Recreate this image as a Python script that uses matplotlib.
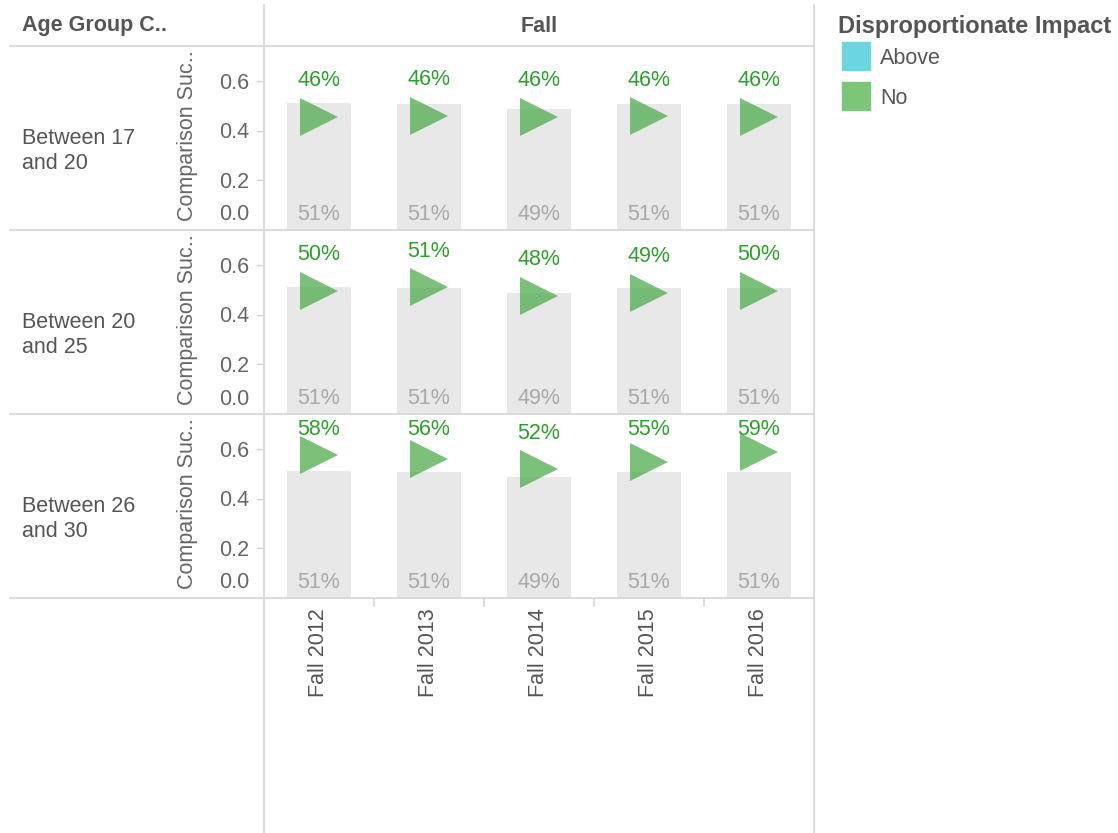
import matplotlib
matplotlib.use("Agg")
import matplotlib.pyplot as plt
from matplotlib.lines import Line2D
from matplotlib.patches import Rectangle

# ---------------- data ----------------
terms = ["Fall 2012", "Fall 2013", "Fall 2014", "Fall 2015", "Fall 2016"]
age_groups = ["Between 17\nand 20", "Between 20\nand 25", "Between 26\nand 30"]
comparison_rate = [0.512, 0.507, 0.490, 0.507, 0.507]          # grey bars (same in each row)
group_rate_17_20 = [0.458, 0.462, 0.458, 0.459, 0.458]
group_rate_20_25 = [0.498, 0.512, 0.478, 0.490, 0.498]
group_rate_26_30 = [0.578, 0.561, 0.520, 0.551, 0.588]
group_rates = [group_rate_17_20, group_rate_20_25, group_rate_26_30]
y_ticks = [0.0, 0.2, 0.4, 0.6]
legend_labels = ["Above", "No"]

# ---------------- style ----------------
W, H = 1118, 833
DPI = 100
FONT = "Liberation Sans"
FS = 15.5
plt.rcParams["font.family"] = [FONT, "DejaVu Sans"]

GRID = "#d6d6d6"
DARK = "#555555"
TICK = "#666666"
GREEN_TXT = "#2ca02c"
TRI = "#4fad4f"
BAR = "#e8e8e8"
BAR_TXT = "#a8a8a8"
ABOVE = "#6dd5e0"
NO = "#7cc67a"

fig = plt.figure(figsize=(W / DPI, H / DPI), dpi=DPI)


def fx(px):
    return px / W


def fy(py):
    return 1 - py / H


def hline(y, x0, x1):
    fig.add_artist(Line2D([fx(x0), fx(x1)], [fy(y), fy(y)], color=GRID, lw=1.2,
                          transform=fig.transFigure))


def vline(x, y0, y1):
    fig.add_artist(Line2D([fx(x), fx(x)], [fy(y0), fy(y1)], color=GRID, lw=1.2,
                          transform=fig.transFigure))


PL, PR = 264, 814
row_tops = [46, 230, 414]
ROW_H = 184
YMAX = 0.743
px_per_unit = ROW_H / YMAX

# headers
fig.text(fx(22), fy(26), "Age Group C..", fontsize=FS, fontweight="bold", color=DARK,
         ha="left", va="center")
fig.text(fx((PL + PR) / 2), fy(26), "Fall", fontsize=FS, fontweight="bold", color=DARK,
         ha="center", va="center")

for r, top in enumerate(row_tops):
    ax = fig.add_axes([fx(PL), fy(top + ROW_H), fx(PR - PL), ROW_H / H])
    ax.set_xlim(-0.5, len(terms) - 0.5)
    ax.set_ylim(0, YMAX)
    for s in ax.spines.values():
        s.set_visible(False)
    ax.set_xticks([])
    ax.set_yticks(y_ticks[1:])
    ax.tick_params(axis="y", length=6, width=1, color=GRID, labelleft=False)
    ax.patch.set_alpha(0)

    xs = list(range(len(terms)))
    ax.bar(xs, comparison_rate, width=0.58, color=BAR, zorder=1)
    ax.plot(xs, group_rates[r], linestyle="none", marker=">", markersize=28,
            markerfacecolor=TRI, markeredgewidth=0, alpha=0.75, zorder=3)

    for i, (b, g) in enumerate(zip(comparison_rate, group_rates[r])):
        ax.text(i, 16 / px_per_unit, f"{round(b * 100):d}%", color=BAR_TXT, fontsize=FS,
                ha="center", va="center", zorder=4)
        ly = min(g + 36 / px_per_unit, YMAX - 15 / px_per_unit)
        ax.text(i, ly, f"{round(g * 100):d}%", color=GREEN_TXT, fontsize=FS,
                ha="center", va="center", zorder=4)

    # y tick labels
    for t in y_ticks:
        ypx = top + ROW_H - t * px_per_unit + 2
        if t == 0:
            ypx -= 17
        fig.text(fx(249), fy(ypx), f"{t:.1f}", color=TICK, fontsize=FS,
                 ha="right", va="center")

    # y-axis title
    fig.text(fx(188), fy(top + ROW_H / 2 - 2), "Comparison Suc..", color=TICK, fontsize=FS,
             rotation=90, ha="center", va="center")
    # row label
    fig.text(fx(22), fy(top + ROW_H / 2 + 13), age_groups[r], color=DARK, fontsize=FS,
             ha="left", va="center", linespacing=1.27)

# grid lines
hline(46, 10, PR)
for top in row_tops:
    hline(top + ROW_H, 10, PR)
vline(PL, 5, H)
vline(PR, 5, H)
col_w = (PR - PL) / len(terms)
for k in range(1, len(terms)):
    vline(PL + k * col_w, 598, 606)

# x labels
for i, t in enumerate(terms):
    fig.text(fx(PL + col_w * (i + 0.5)), fy(608), t, color=DARK, fontsize=FS,
             rotation=90, ha="center", va="top")

# legend
fig.text(fx(838), fy(26), "Disproportionate Impact", fontsize=17, fontweight="bold",
         color=DARK, ha="left", va="center")
for j, (lab, col) in enumerate(zip(legend_labels, [ABOVE, NO])):
    yc = 56 + 40 * j
    fig.add_artist(Rectangle((fx(842), fy(yc + 14)), fx(28), 28 / H, color=col,
                             transform=fig.transFigure))
    fig.text(fx(880), fy(yc + 2), lab, fontsize=FS, color=DARK, ha="left", va="center")

fig.savefig("out.png", dpi=DPI)
